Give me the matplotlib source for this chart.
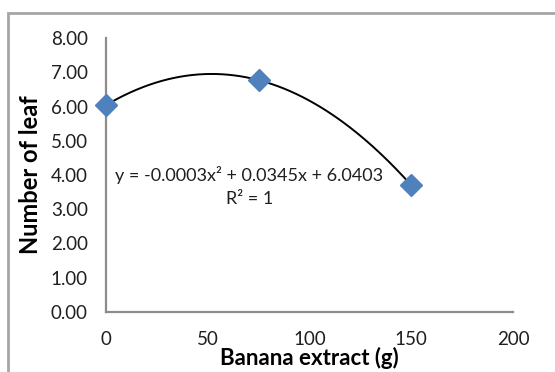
import numpy as np
import matplotlib
matplotlib.use("Agg")
import matplotlib.pyplot as plt
from matplotlib.patches import Rectangle

plt.rcParams['font.family'] = ['Lato', 'DejaVu Sans']

# Data
extract_g = [0, 75, 150]
leaf_count = [6.04, 6.77, 3.70]
x_ticks = [0, 50, 100, 150, 200]
y_ticks = [0, 1, 2, 3, 4, 5, 6, 7, 8]
equation_text = "y = -0.0003x\u00b2 + 0.0345x + 6.0403"
r2_text = "R\u00b2 = 1"

fig = plt.figure(figsize=(5.55, 3.72), dpi=100)
ax = fig.add_axes([106/555, 1 - 312/372, (513-106)/555, (312-38)/372])

# outer chart frame
fig.patches.append(Rectangle((8/555, -0.1), 1.2, 1 - 13/372 + 0.1,
                             transform=fig.transFigure, fill=False,
                             edgecolor='#a6a6a6', linewidth=2, clip_on=False))

# quadratic trend line through the points
coef = np.polyfit(extract_g, leaf_count, 2)
xs = np.linspace(min(extract_g), max(extract_g), 200)
ax.plot(xs, np.polyval(coef, xs), color='black', linewidth=1.4, zorder=2)

ax.plot(extract_g, leaf_count, linestyle='none', marker='D', markersize=11,
        color='#4f81bd', markeredgecolor='#4f81bd', zorder=3, clip_on=False)

ax.set_xlim(0, 200)
ax.set_ylim(0, 8)
ax.set_xticks(x_ticks)
ax.set_xticklabels([str(v) for v in x_ticks])
ax.set_yticks(y_ticks)
ax.set_yticklabels([f"{v:.2f}" for v in y_ticks])

for side in ['top', 'right']:
    ax.spines[side].set_visible(False)
for side in ['left', 'bottom']:
    ax.spines[side].set_color('#8c8c8c')
    ax.spines[side].set_linewidth(1.6)

ax.tick_params(axis='both', length=0, labelsize=13.5, colors='#1f1f1f')
ax.tick_params(axis='y', pad=13)
ax.tick_params(axis='x', pad=14)

ax.set_xlabel("Banana extract (g)", fontsize=16, fontweight='bold', va='center')
ax.xaxis.set_label_coords(0.5, -(358 - 312) / 274)
ax.set_ylabel("Number of leaf", fontsize=17, fontweight='bold', va='center')
ax.yaxis.set_label_coords(-(106 - 30) / 407, 0.5)

ax.text(70.5, 4.00, equation_text, ha='center', va='center', fontsize=13, color='#1f1f1f')
ax.text(70.5, 3.30, r2_text, ha='center', va='center', fontsize=13, color='#1f1f1f')

fig.savefig("out.png", dpi=100)
